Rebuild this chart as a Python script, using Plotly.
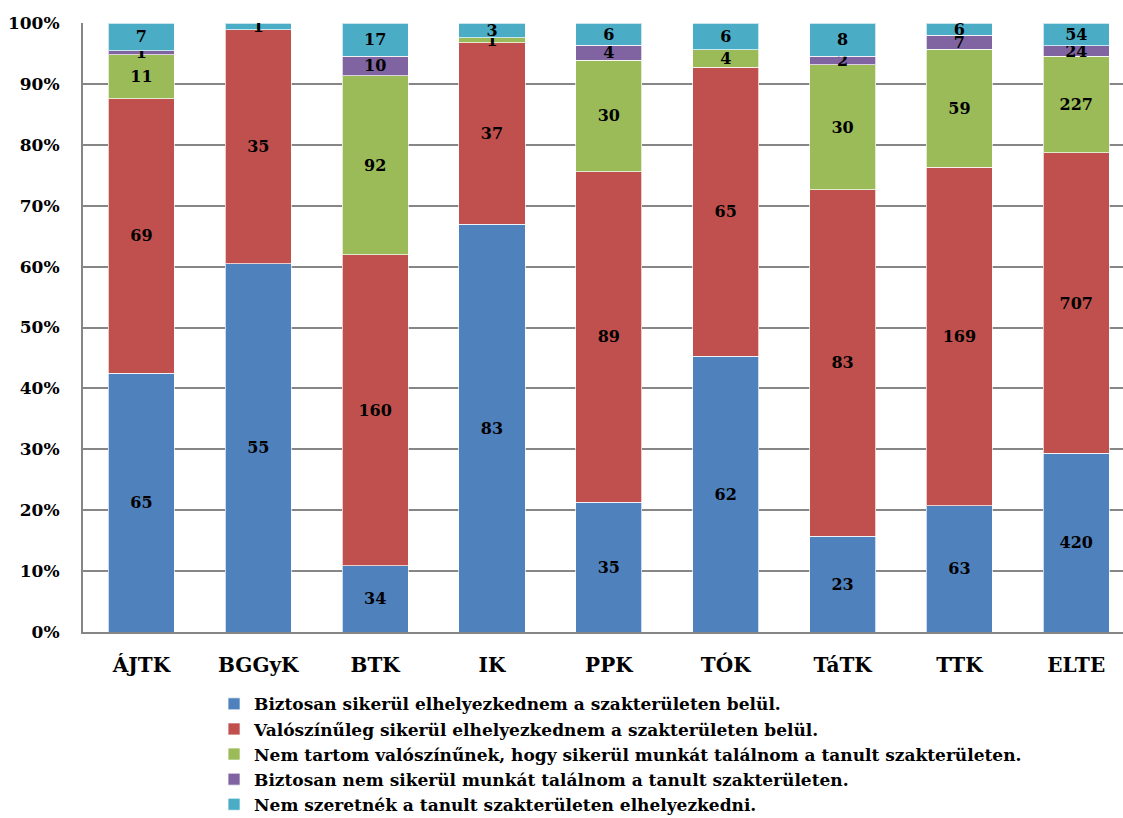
import plotly.graph_objects as go

categories = ["ÁJTK", "BGGyK", "BTK", "IK", "PPK", "TÓK", "TáTK", "TTK", "ELTE"]
series_names = [
    "Biztosan sikerül elhelyezkednem a szakterületen belül.",
    "Valószínűleg sikerül elhelyezkednem a szakterületen belül.",
    "Nem tartom valószínűnek, hogy sikerül munkát találnom a tanult szakterületen.",
    "Biztosan nem sikerül munkát találnom a tanult szakterületen.",
    "Nem szeretnék a tanult szakterületen elhelyezkedni.",
]
biztosan = [65, 55, 34, 83, 35, 62, 23, 63, 420]
valoszinuleg = [69, 35, 160, 37, 89, 65, 83, 169, 707]
nem_tartom = [11, 0, 92, 1, 30, 4, 30, 59, 227]
biztosan_nem = [1, 0, 10, 0, 4, 0, 2, 7, 24]
nem_szeretnek = [7, 1, 17, 3, 6, 6, 8, 6, 54]
series_values = [biztosan, valoszinuleg, nem_tartom, biztosan_nem, nem_szeretnek]
colors = ["#4F81BD", "#C0504D", "#9BBB59", "#8064A2", "#4BACC6"]
y_tick_vals = [0, 10, 20, 30, 40, 50, 60, 70, 80, 90, 100]
y_tick_text = [f"{v}%" for v in y_tick_vals]

FONT = "DejaVu Serif"

fig = go.Figure()
for name, vals, col in zip(series_names, series_values, colors):
    fig.add_trace(go.Bar(
        x=categories, y=vals, name=name,
        marker=dict(color=col, line=dict(color="rgba(255,255,255,0.7)", width=1)),
        text=[str(v) if v else "" for v in vals],
        textposition="inside", insidetextanchor="middle", textangle=0,
        constraintext="none",
        textfont=dict(family=FONT, size=16, color="black", weight="bold"),
    ))

fig.update_layout(
    barmode="stack", barnorm="percent", bargap=0.435,
    width=1123, height=818,
    margin=dict(l=83, r=0, t=23, b=186),
    paper_bgcolor="white", plot_bgcolor="white",
    uniformtext=dict(minsize=16, mode="show"),
    font=dict(family=FONT, size=17, color="black", weight="bold"),
    showlegend=True,
    legend=dict(
        orientation="v", xref="paper", x=0.126, xanchor="left",
        yref="container", y=0.161, yanchor="top",
        font=dict(family=FONT, size=17, color="black", weight="bold"),
        traceorder="normal", itemwidth=30, tracegroupgap=0,
    ),
)
fig.update_xaxes(
    range=[-0.5, 8.4], showgrid=False, showline=True, linecolor="#868686", linewidth=2,
    tickfont=dict(family=FONT, size=20, color="black", weight="bold"), ticks="", ticklabelstandoff=14,
)
fig.update_yaxes(
    range=[0, 100], tickvals=y_tick_vals, ticktext=y_tick_text,
    showgrid=True, gridcolor="#868686", gridwidth=2,
    showline=True, linecolor="#868686", linewidth=2, zeroline=False,
    tickfont=dict(family=FONT, size=17, color="black", weight="bold"), ticks="", ticklabelstandoff=18,
)
fig.write_html("out.html", post_script="document.body.style.margin='0';",
               config={"displayModeBar": False})
